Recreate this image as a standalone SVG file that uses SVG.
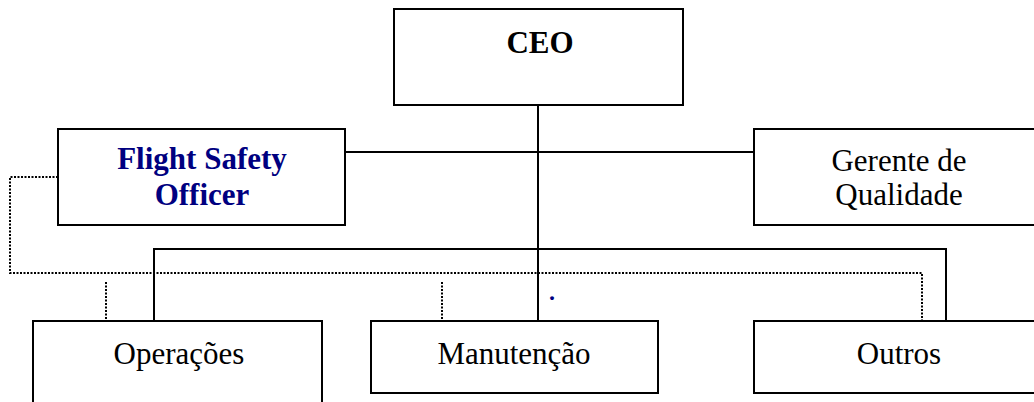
<svg xmlns="http://www.w3.org/2000/svg" width="1034" height="402" viewBox="0 0 1034 402">
  <style>
    .box { fill: #ffffff; stroke: #000000; stroke-width: 2; }
    .solid { fill: none; stroke: #000000; stroke-width: 2; }
    .dotted { fill: none; stroke: #000000; stroke-width: 2; stroke-dasharray: 2 1.5; }
    .lbl { font-family: "Liberation Serif", "Times New Roman", serif; font-size: 31px; fill: #000000; text-anchor: middle; }
    .bold { font-weight: bold; }
    .navy { fill: #000080; }
  </style>
  <rect width="1034" height="402" fill="#ffffff"/>

  <!-- reporting lines -->
  <g id="connectors">
    <line class="solid" x1="538" y1="105" x2="538" y2="321"/>
    <line class="solid" x1="345" y1="152" x2="754" y2="152"/>
    <polyline class="solid" points="154,321 154,249 946,249 946,321"/>
    <!-- safety reporting channel -->
    <polyline class="dotted" points="58,177 10,177 10,273 922,273 922,321"/>
    <line class="dotted" x1="106" y1="282" x2="106" y2="321"/>
    <line class="dotted" x1="442" y1="282" x2="442" y2="321"/>
    <text x="552" y="300" font-family="Liberation Serif, serif" font-size="24" font-weight="bold" fill="#000080" text-anchor="middle">.</text>
  </g>

  <g id="ceo">
    <rect class="box" x="394" y="9" width="289" height="96"/>
    <text class="lbl bold" x="540" y="53">CEO</text>
  </g>

  <g id="flight-safety-officer">
    <rect class="box" x="58" y="129" width="287" height="96"/>
    <text class="lbl bold navy" x="202" y="169">Flight Safety</text>
    <text class="lbl bold navy" x="202" y="205">Officer</text>
  </g>

  <g id="gerente-qualidade">
    <rect class="box" x="754" y="129" width="292" height="96"/>
    <text class="lbl" x="899" y="171">Gerente de</text>
    <text class="lbl" x="899" y="205">Qualidade</text>
  </g>

  <g id="operacoes">
    <rect class="box" x="33" y="321" width="289" height="92"/>
    <text class="lbl" x="179" y="364">Operações</text>
  </g>

  <g id="manutencao">
    <rect class="box" x="371" y="321" width="287" height="72"/>
    <text class="lbl" x="514" y="364">Manutenção</text>
  </g>

  <g id="outros">
    <rect class="box" x="754" y="321" width="292" height="72"/>
    <text class="lbl" x="899" y="364">Outros</text>
  </g>
</svg>
